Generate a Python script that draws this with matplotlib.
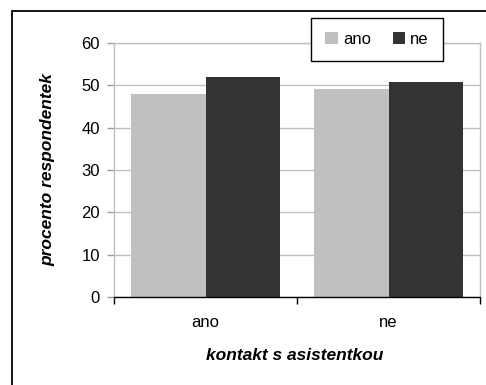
import matplotlib
matplotlib.use("Agg")
import matplotlib.pyplot as plt
from matplotlib.patches import Rectangle
import numpy as np

plt.rcParams['font.family'] = ['Liberation Sans', 'DejaVu Sans']

categories = ["ano", "ne"]
series_names = ["ano", "ne"]
values_ano = [48.0, 49.2]
values_ne = [52.0, 50.8]
colors = ["#c0c0c0", "#333333"]
yticks = [0, 10, 20, 30, 40, 50, 60]

W, H = 486, 385
fs = 12
fig = plt.figure(figsize=(W / 100, H / 100), dpi=100)

# outer chart frame (runs off the right and bottom edges)
fig.patches.append(Rectangle((12 / W, -0.2), 1.5, 1.2 - 11 / H, transform=fig.transFigure,
                             fill=False, edgecolor="black", linewidth=1.3, zorder=0))

left, right, top, bottom = 114, 480, 43, 297
ax = fig.add_axes([left / W, 1 - bottom / H, (right - left) / W, (bottom - top) / H])

x = np.arange(len(categories))
bw = 0.405
b1 = ax.bar(x - bw / 2, values_ano, width=bw, color=colors[0], label=series_names[0], zorder=2)
b2 = ax.bar(x + bw / 2, values_ne, width=bw, color=colors[1], label=series_names[1], zorder=2)

ax.set_xlim(-0.5, 1.5)
ax.set_ylim(0, 60)
ax.set_yticks(yticks)
ax.set_yticklabels([str(t) for t in yticks], fontsize=fs)
ax.yaxis.grid(True, color="#c0c0c0", linewidth=1, zorder=0)
ax.set_axisbelow(True)

ax.set_xticks(x)
ax.set_xticklabels(categories, fontsize=fs)
ax.tick_params(axis="x", length=0, pad=13)
ax.set_xticks([-0.5, 0.5, 1.5], minor=True)
ax.tick_params(axis="x", which="minor", length=5, color="black", width=1)
ax.tick_params(axis="y", length=5, color="#999999", width=1, pad=5)

for s in ["top", "right", "left"]:
    ax.spines[s].set_color("#c0c0c0")
    ax.spines[s].set_linewidth(1)
ax.spines["bottom"].set_color("black")
ax.spines["bottom"].set_linewidth(1)

fig.text(295 / W, 1 - 355 / H, "kontakt s asistentkou", fontsize=12.5, fontweight="bold",
         fontstyle="italic", ha="center", va="center")
fig.text(48 / W, 1 - 170 / H, "procento respondentek", fontsize=12.5, fontweight="bold",
         fontstyle="italic", ha="center", va="center", rotation=90)

leg = fig.legend(handles=[b1, b2], labels=series_names, loc="center",
                 bbox_to_anchor=((312 + 442) / 2 / W, 1 - (18 + 61) / 2 / H),
                 ncol=2, frameon=True, fancybox=False, fontsize=fs,
                 handlelength=0.75, handleheight=0.75, handletextpad=0.3,
                 columnspacing=1.3, borderpad=0.85, borderaxespad=0)
leg.get_frame().set_edgecolor("black")
leg.get_frame().set_linewidth(1)
leg.get_frame().set_facecolor("white")
leg.get_frame().set_alpha(1)

fig.savefig("out.png", dpi=100)
